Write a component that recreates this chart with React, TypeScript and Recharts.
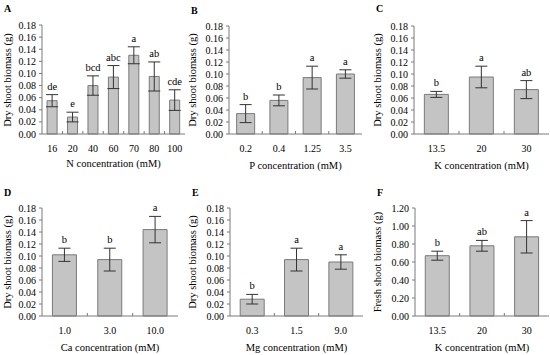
import { Bar, BarChart, ErrorBar, LabelList, XAxis, YAxis } from 'recharts';

const FONT = '"Liberation Serif", "DejaVu Serif", serif';
const AXIS = '#7a7a7a';

// A: N
const nLevels = ['16', '20', '40', '60', '70', '80', '100'];
const nMeans = [0.055, 0.028, 0.080, 0.094, 0.130, 0.095, 0.056];
const nErrors = [0.010, 0.008, 0.016, 0.019, 0.014, 0.024, 0.017];
const nLetters = ['de', 'e', 'bcd', 'abc', 'a', 'ab', 'cde'];

// B: P
const pLevels = ['0.2', '0.4', '1.25', '3.5'];
const pMeans = [0.034, 0.056, 0.094, 0.100];
const pErrors = [0.015, 0.009, 0.019, 0.007];
const pLetters = ['b', 'b', 'a', 'a'];

// C: K (dry)
const kLevels = ['13.5', '20', '30'];
const kMeans = [0.066, 0.095, 0.074];
const kErrors = [0.005, 0.018, 0.015];
const kLetters = ['b', 'a', 'ab'];

// D: Ca
const caLevels = ['1.0', '3.0', '10.0'];
const caMeans = [0.102, 0.094, 0.144];
const caErrors = [0.011, 0.019, 0.022];
const caLetters = ['b', 'b', 'a'];

// E: Mg
const mgLevels = ['0.3', '1.5', '9.0'];
const mgMeans = [0.028, 0.094, 0.090];
const mgErrors = [0.008, 0.019, 0.012];
const mgLetters = ['b', 'a', 'a'];

// F: K (fresh)
const kfLevels = ['13.5', '20', '30'];
const kfMeans = [0.67, 0.78, 0.88];
const kfErrors = [0.05, 0.06, 0.18];
const kfLetters = ['b', 'ab', 'a'];

const dryTicks = [0, 0.02, 0.04, 0.06, 0.08, 0.1, 0.12, 0.14, 0.16, 0.18];
const freshTicks = [0, 0.2, 0.4, 0.6, 0.8, 1.0, 1.2];

type PanelProps = {
  tag: string;
  tagPos: [number, number];
  levels: string[];
  means: number[];
  errors: number[];
  letters: string[];
  ticks: number[];
  xTitle: string;
  yTitle: string;
  yTitleX: number;
  xTitleY: number;
  box: [number, number, number, number]; // plot left, top, right, bottom (page px)
  gap: string;
};

function Panel({
  tag, tagPos, levels, means, errors, letters, ticks,
  xTitle, yTitle, yTitleX, xTitleY, box, gap
}: PanelProps) {
  const [pl, pt, pr, pb] = box;
  const ox = pl - 40;
  const oy = pt - 25;
  const w = pr - ox + 4;
  const h = pb - oy + 30;
  const step = (pr - pl) / levels.length;

  const data = levels.map((level, i) => ({
    level,
    mean: means[i],
    err: errors[i],
    letter: letters[i]
  }));

  const renderTick = (p: any) => {
    const { x, y, payload, index } = p;
    return (
      <g>
        <text x={x} y={y + 18} textAnchor="middle" fontSize={10} fontFamily={FONT} fill="#000">
          {payload.value}
        </text>
        {index < levels.length - 1 && (
          <line x1={x + step / 2} x2={x + step / 2} y1={y} y2={y - 3} stroke={AXIS} />
        )}
      </g>
    );
  };

  const renderLetter = (p: any) => {
    const vb = p.x !== undefined ? p : p.viewBox;
    const { x, y, width, height } = vb;
    const d = data[p.index];
    const errTop = y - (d.err / d.mean) * height;
    return (
      <text x={x + width / 2} y={errTop - 5} textAnchor="middle" fontSize={10.5} fontFamily={FONT} fill="#000">
        {p.value}
      </text>
    );
  };

  return (
    <>
      <div style={{ position: 'absolute', left: ox, top: oy }}>
        <BarChart
          width={w}
          height={h}
          data={data}
          margin={{ top: 25, right: 4, bottom: 0, left: 0 }}
          barCategoryGap={gap}
        >
          <XAxis
            dataKey="level"
            height={30}
            interval={0}
            tickLine={false}
            tickSize={0}
            tickMargin={0}
            axisLine={{ stroke: AXIS }}
            tick={renderTick}
          />
          <YAxis
            width={40}
            type="number"
            domain={[0, ticks[ticks.length - 1]]}
            ticks={ticks}
            interval={0}
            tickFormatter={(v: number) => v.toFixed(2)}
            tick={{ fontSize: 10, fill: '#000', fontFamily: FONT }}
            tickSize={3}
            tickMargin={3}
            axisLine={{ stroke: AXIS }}
            tickLine={{ stroke: AXIS }}
          />
          <Bar dataKey="mean" fill="#c4c4c4" stroke="#7a7a7a" strokeWidth={1} isAnimationActive={false}>
            <ErrorBar dataKey="err" width={6} stroke="#333" strokeWidth={1} direction="y" />
            <LabelList dataKey="letter" content={renderLetter} />
          </Bar>
        </BarChart>
      </div>
      <div
        style={{
          position: 'absolute', left: tagPos[0], top: tagPos[1], fontFamily: FONT,
          fontWeight: 'bold', fontSize: 10, lineHeight: '10px'
        }}
      >
        {tag}
      </div>
      <div
        style={{
          position: 'absolute', left: yTitleX, top: (pt + pb) / 2, fontFamily: FONT,
          fontSize: 10.5, whiteSpace: 'nowrap', lineHeight: '12px',
          transform: 'translate(-50%, -50%) rotate(-90deg)'
        }}
      >
        {yTitle}
      </div>
      <div
        style={{
          position: 'absolute', left: (pl + pr) / 2, top: xTitleY, fontFamily: FONT,
          fontSize: 10.5, whiteSpace: 'nowrap', lineHeight: '12px',
          transform: 'translate(-50%, -50%)'
        }}
      >
        {xTitle}
      </div>
    </>
  );
}

export default function App() {
  const dry = 'Dry shoot biomass (g)';
  return (
    <div style={{ position: 'absolute', left: 0, top: 0, width: 550, height: 355, background: '#fff', overflow: 'hidden' }}>
      <Panel tag="A" tagPos={[4, 4]} levels={nLevels} means={nMeans} errors={nErrors} letters={nLetters}
        ticks={dryTicks} xTitle="N concentration (mM)" yTitle={dry} yTitleX={8} xTitleY={164}
        box={[42, 25, 185, 134]} gap="25%" />
      <Panel tag="B" tagPos={[191, 6]} levels={pLevels} means={pMeans} errors={pErrors} letters={pLetters}
        ticks={dryTicks} xTitle="P concentration (mM)" yTitle={dry} yTitleX={193} xTitleY={166}
        box={[229, 26, 362, 134]} gap="23%" />
      <Panel tag="C" tagPos={[376, 4]} levels={kLevels} means={kMeans} errors={kErrors} letters={kLetters}
        ticks={dryTicks} xTitle="K concentration (mM)" yTitle={dry} yTitleX={378} xTitleY={166}
        box={[414, 26, 549, 134]} gap="23%" />
      <Panel tag="D" tagPos={[4, 188]} levels={caLevels} means={caMeans} errors={caErrors} letters={caLetters}
        ticks={dryTicks} xTitle="Ca concentration (mM)" yTitle={dry} yTitleX={8} xTitleY={348}
        box={[42, 208, 178, 316]} gap="23%" />
      <Panel tag="E" tagPos={[192, 188]} levels={mgLevels} means={mgMeans} errors={mgErrors} letters={mgLetters}
        ticks={dryTicks} xTitle="Mg concentration (mM)" yTitle={dry} yTitleX={193} xTitleY={348}
        box={[230, 208, 363, 316]} gap="23%" />
      <Panel tag="F" tagPos={[377, 188]} levels={kfLevels} means={kfMeans} errors={kfErrors} letters={kfLetters}
        ticks={freshTicks} xTitle="K concentration (mM)" yTitle="Fresh shoot biomass (g)" yTitleX={378} xTitleY={348}
        box={[415, 208, 549, 316]} gap="23%" />
    </div>
  );
}
